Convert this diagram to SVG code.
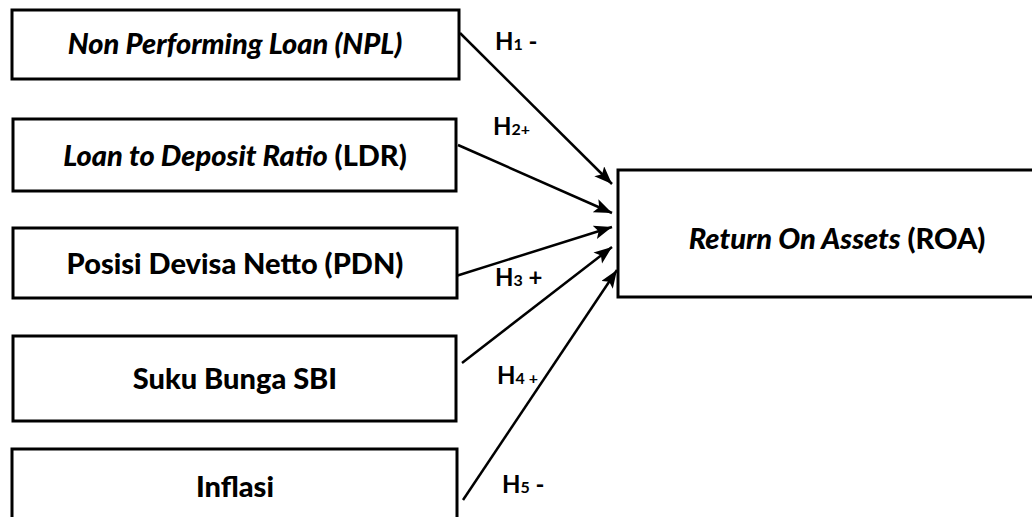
<svg xmlns="http://www.w3.org/2000/svg" width="1032" height="517" viewBox="0 0 1032 517">
<defs>
<style>
.box{fill:#fff;stroke:#000;stroke-width:3}
.t{font-family:Lato,"Liberation Sans",sans-serif;font-weight:900;font-size:29px;fill:#000;text-anchor:middle}
.i{font-style:italic}
.h{font-family:Lato,"Liberation Sans",sans-serif;font-weight:bold;font-size:24px;fill:#000}
.sub{font-size:16px}
.c{stroke:#000;stroke-width:2.5;fill:none;marker-end:url(#ah)}
</style>
<marker id="ah" markerUnits="userSpaceOnUse" markerWidth="20" markerHeight="16" refX="18" refY="7" orient="auto">
<path d="M0,0 L18,7 L0,14 L4,7 Z" fill="#000"/>
</marker>
</defs>
<rect width="1032" height="517" fill="#fff"/>
<g id="connectors">
<line class="c" x1="460" y1="33" x2="612" y2="184"/>
<line class="c" x1="458" y1="145" x2="612" y2="213"/>
<line class="c" x1="456" y1="276" x2="612" y2="227"/>
<line class="c" x1="462" y1="363" x2="612" y2="247"/>
<line class="c" x1="463" y1="500" x2="617" y2="270"/>
</g>
<g id="labels">
<text class="h" x="495" y="50">H<tspan class="sub">1</tspan> -</text>
<text class="h" x="493" y="135">H<tspan class="sub">2+</tspan></text>
<text class="h" x="495" y="286">H<tspan class="sub">3</tspan> +</text>
<text class="h" x="497" y="384">H<tspan class="sub">4 +</tspan></text>
<text class="h" x="502" y="493">H<tspan class="sub">5</tspan> -</text>
</g>
<g id="npl">
<rect class="box" x="12" y="10" width="447" height="69"/>
<text class="t i" x="235" y="54">Non Performing Loan (NPL)</text>
</g>
<g id="ldr">
<rect class="box" x="13" y="119" width="443" height="72"/>
<text class="t" x="235" y="166"><tspan class="i">Loan to Deposit Ratio</tspan> (LDR)</text>
</g>
<g id="pdn">
<rect class="box" x="13" y="228" width="444" height="70"/>
<text class="t" x="235" y="274">Posisi Devisa Netto (PDN)</text>
</g>
<g id="sbi">
<rect class="box" x="13" y="336" width="443" height="85"/>
<text class="t" x="235" y="389">Suku Bunga SBI</text>
</g>
<g id="inflasi">
<rect class="box" x="12" y="449" width="445" height="80"/>
<text class="t" x="235" y="497">Inflasi</text>
</g>
<g id="roa">
<rect class="box" x="618" y="170" width="430" height="127"/>
<text class="t" x="837" y="249"><tspan class="i">Return On Assets</tspan> (ROA)</text>
</g>
</svg>
